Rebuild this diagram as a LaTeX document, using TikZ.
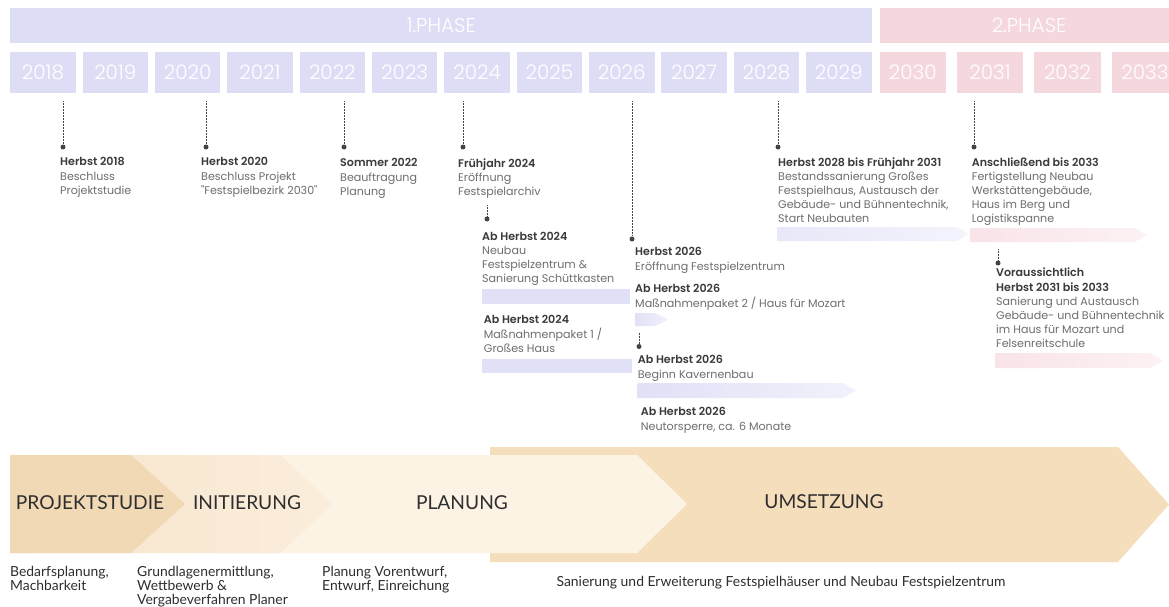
\documentclass[tikz,border=0pt]{standalone}
\usepackage{fontspec}
\usetikzlibrary{calc}
\IfFontExistsTF{Poppins SemiBold}{\newfontfamily\popfont{Poppins}[BoldFont={Poppins SemiBold}]}{\newfontfamily\popfont{Poppins}}
\IfFontExistsTF{Poppins Light}{\newfontfamily\poplight{Poppins Light}}{\newfontfamily\poplight{Poppins}}
\newfontfamily\latofont{Lato}
\definecolor{phaseA}{HTML}{DDDEF6}
\definecolor{phaseB}{HTML}{F5D7DE}
\definecolor{barA}{HTML}{E0E1F6}
\definecolor{barB}{HTML}{F9E4E8}
\definecolor{txthead}{HTML}{3A3A3A}
\definecolor{txtbody}{HTML}{6E6E6E}
\definecolor{dotc}{HTML}{454545}
\definecolor{chP}{HTML}{F1D9B6}
\definecolor{chI}{HTML}{F7E5CC}
\definecolor{chL}{HTML}{FDF3E5}
\definecolor{chU}{HTML}{F5DEBB}
\definecolor{bottxt}{HTML}{2E2E2E}
\tikzset{
  yearbox/.style={anchor=north west, inner sep=0, minimum width=65.5pt, minimum height=41pt,
     text=white, font=\poplight\fontsize{20}{20}\selectfont},
  yearA/.style={yearbox, fill=phaseA},
  yearB/.style={yearbox, fill=phaseB, minimum width=66.5pt},
  phasebox/.style={anchor=north west, inner sep=0, minimum height=35pt, text=white,
     font=\poplight\fontsize{20}{20}\selectfont},
  dotnode/.style={circle, fill=dotc, inner sep=0, minimum size=5pt},
  dotline/.style={draw=dotc, line width=0.9pt, dash pattern=on 0.7pt off 0.8pt},
  lab/.style={anchor=north west, inner sep=0, align=left, text=txtbody,
     font=\popfont\fontsize{11.1}{14.1}\selectfont},
  chlabel/.style={inner sep=0, text=bottxt, font=\latofont\fontsize{19.2}{19.2}\selectfont},
  desc/.style={anchor=north west, inner sep=0, align=left, text=bottxt,
     font=\latofont\fontsize{13.9}{13.6}\selectfont},
  fadeA/.style={left color=barA, right color=barA!45!white},
  fadeB/.style={left color=barB, right color=barB!50!white}
}
\newcommand{\hd}[1]{\textbf{\color{txthead}#1}}
\begin{document}
\begin{tikzpicture}[x=1pt,y=-1pt]
\useasboundingbox (0,0) rectangle (1169,607);
\fill[white] (0,0) rectangle (1169,607);
\clip (0,0) rectangle (1169,607);

% phase bars
\node[phasebox, fill=phaseA, minimum width=862pt] (ph1) at (10,7.5) {1.PHASE};
\node[phasebox, fill=phaseB, minimum width=299pt] (ph2) at (879.3,7.5) {2.PHASE};

% year boxes
\foreach \yr [count=\i from 0] in {2018,2019,2020,2021,2022,2023,2024,2025,2026,2027,2028,2029}
  \node[yearA] (y\yr) at ({10+72.35*\i},52) {\yr};
\foreach \yr/\xx in {2030/879.3,2031/956.5,2032/1034,2033/1111.5}
  \node[yearB] (y\yr) at (\xx,52) {\yr};

% bars
\fill[barA] (482,289) rectangle (630,304);
\fill[barA] (482,359) rectangle (632,373);
\shade[fadeA] (635,313) -- (655,313) -- (668,319.5) -- (655,326) -- (635,326) -- cycle;
\shade[fadeA] (637.7,383) -- (843,383) -- (856,390.5) -- (843,398) -- (637.7,398) -- cycle;
\shade[left color=phaseA!70!white, right color=phaseA!35!white] (777,227) -- (957,227) -- (968,234) -- (957,241) -- (777,241) -- cycle;
\shade[fadeB] (970.7,228) -- (1135,228) -- (1147,235) -- (1135,242) -- (970.7,242) -- cycle;
\shade[fadeB] (995,353) -- (1150,353) -- (1163,360.5) -- (1150,368) -- (995,368) -- cycle;

% dots
\node[dotnode] (k2018) at (63,147) {};
\node[dotnode] (k2020) at (206,147) {};
\node[dotnode] (k2022) at (344,147) {};
\node[dotnode] (k2024) at (463,147) {};
\node[dotnode] (k2026) at (632,239) {};
\node[dotnode] (k2028) at (778,147) {};
\node[dotnode] (k2031) at (974,147) {};
\node[dotnode] (s2024) at (487,219) {};
\node[dotnode] (s2026) at (639,346.5) {};
\node[dotnode] (s2031) at (998,263) {};

\foreach \a/\b in {2018/2018,2020/2020,2022/2022,2024/2024,2026/2026,2028/2028,2031/2031}
  \draw[dotline] ($(k\a |- y\b.south)+(0,8)$) -- (k\a);
\foreach \a in {2024,2026,2031}
  \draw[dotline] ($(s\a)+(0,-14)$) -- (s\a);

% labels
\node[lab] (l1) at (60,157.5) {\hd{Herbst 2018}\\Beschluss\\Projektstudie};
\node[lab] (l2) at (201,157.5) {\hd{Herbst 2020}\\Beschluss Projekt\\"Festspielbezirk 2030"};
\node[lab] (l3) at (340,158.5) {\hd{Sommer 2022}\\Beauftragung\\Planung};
\node[lab] (l4) at (458,158.5) {\hd{Frühjahr 2024}\\Eröffnung\\Festspielarchiv};
\node[lab] (l5) at (482,232) {\hd{Ab Herbst 2024}\\Neubau\\Festspielzentrum \&\\Sanierung Schüttkasten};
\node[lab] (l6) at (483.7,315.5) {\hd{Ab Herbst 2024}\\Maßnahmenpaket 1 /\\Großes Haus};
\node[lab] (l7) at (635,247.5) {\hd{Herbst 2026}\\Eröffnung Festspielzentrum};
\node[lab] (l8) at (635,284.5) {\hd{Ab Herbst 2026}\\Maßnahmenpaket 2 / Haus für Mozart};
\node[lab] (l9) at (637.7,355.5) {\hd{Ab Herbst 2026}\\Beginn Kavernenbau};
\node[lab] (l10) at (640.7,407.5) {\hd{Ab Herbst 2026}\\Neutorsperre, ca. 6 Monate};
\node[lab] (l11) at (778,157.5) {\hd{Herbst 2028 bis Frühjahr 2031}\\Bestandssanierung Großes\\Festspielhaus, Austausch der\\Gebäude- und Bühnentechnik,\\Start Neubauten};
\node[lab] (l12) at (971.7,157.5) {\hd{Anschließend bis 2033}\\Fertigstellung Neubau\\Werkstättengebäude,\\Haus im Berg und\\Logistikspanne};
\node[lab] (l13) at (996,268) {\hd{Voraussichtlich}\\\hd{Herbst 2031 bis 2033}\\Sanierung und Austausch\\Gebäude- und Bühnentechnik\\im Haus für Mozart und\\Felsenreitschule};

% chevrons
\fill[chU] (490,447) -- (1118,447) -- (1169,504.5) -- (1118,562) -- (490,562) -- cycle;
\fill[chL] (10,455) -- (637,455) -- (687,504) -- (637,553) -- (10,553) -- cycle;
\shade[left color=chI, right color=chL!60!chI] (10,455) -- (280,455) -- (333,504) -- (280,553) -- (10,553) -- cycle;
\fill[chP] (10,455) -- (131,455) -- (185,504) -- (131,553) -- (10,553) -- cycle;

\node[chlabel] (c1) at (90,503) {PROJEKTSTUDIE};
\node[chlabel] (c2) at (247,503) {INITIERUNG};
\node[chlabel] (c3) at (462,503) {PLANUNG};
\node[chlabel] (c4) at (824,502) {UMSETZUNG};

\node[desc] (d1) at (10,566.5) {Bedarfsplanung,\\Machbarkeit};
\node[desc] (d2) at (137,566.5) {Grundlagenermittlung,\\Wettbewerb \&\\Vergabeverfahren Planer};
\node[desc] (d3) at (322,566.5) {Planung Vorentwurf,\\Entwurf, Einreichung};
\node[desc, anchor=north] (d4) at (781,576.5) {Sanierung und Erweiterung Festspielhäuser und Neubau Festspielzentrum};
\end{tikzpicture}
\end{document}
